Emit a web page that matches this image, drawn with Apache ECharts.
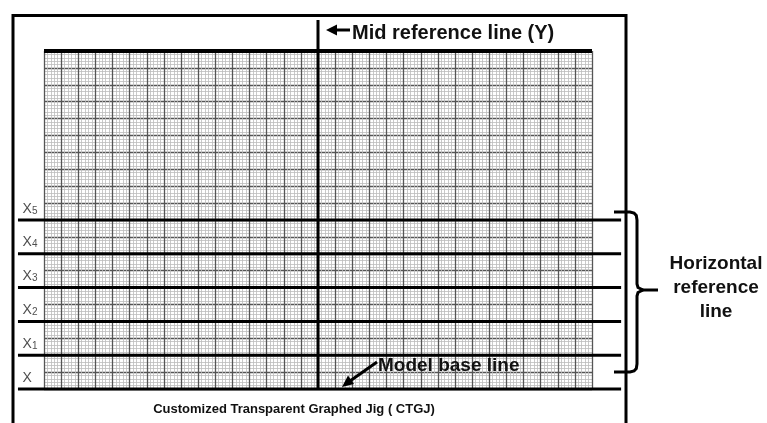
<!DOCTYPE html>
<html><head><meta charset="utf-8">
<script src="https://cdn.jsdelivr.net/npm/echarts@6/dist/echarts.min.js"></script>
<style>html,body{margin:0;padding:0;background:#fff}#c{width:767px;height:423px}</style>
</head><body><div id="c"></div>
<script>
// Graph paper size in major cells
const gridCols = 32;
const gridRows = 20;
// Horizontal reference lines (in major cells above the base line)
const refLevels = [0, 2, 4, 6, 8, 10];
const refLabels = ['X', 'X1', 'X2', 'X3', 'X4', 'X5'];
// Mid reference line (Y) position
const midLineX = [16];
// Annotation texts
const titleText = 'Customized Transparent Graphed Jig ( CTGJ)';
const midText = 'Mid reference line (Y)';
const baseText = 'Model base line';
const bracketText = 'Horizontal\nreference\nline';

const FONT = 'Liberation Sans';
const lineEndL = -1.52, lineEndR = 33.7, midTop = 21.83, labelX = -1.25, labelDy = 0.72;

function labelFmt(s) {
  return s.length > 1 ? '{a|' + s[0] + '}{s|' + s.slice(1) + '}' : '{a|' + s + '}';
}

const chart = echarts.init(document.getElementById('c'), null, {renderer: 'canvas'});

// segments: [x1, y1, x2, y2, width]
const segs = [];
refLevels.forEach(v => segs.push([lineEndL, v, lineEndR, v, 3]));
segs.push([0, gridRows, gridCols, gridRows, 4]);
midLineX.forEach(x => segs.push([x, 0, x, midTop, 3]));

const series = [{
  type: 'custom', clip: false, silent: true, z: 5,
  data: segs,
  renderItem: (params, api) => {
    const p1 = api.coord([api.value(0), api.value(1)]);
    const p2 = api.coord([api.value(2), api.value(3)]);
    return {type: 'line', shape: {x1: p1[0], y1: p1[1], x2: p2[0], y2: p2[1]},
      style: {stroke: '#000', lineWidth: api.value(4), lineCap: 'butt'}};
  }
}, {
  type: 'scatter', clip: false, symbolSize: 0, silent: true,
  data: refLevels.map((v, i) => [labelX, v + labelDy, refLabels[i]]),
  label: {
    show: true, position: 'right', distance: 0,
    formatter: p => labelFmt(p.data[2]),
    rich: {
      a: {fontFamily: FONT, fontSize: 14, color: '#222', verticalAlign: 'bottom', lineHeight: 16},
      s: {fontFamily: FONT, fontSize: 10, color: '#222', verticalAlign: 'bottom', lineHeight: 14}
    }
  }
}];

const ar = 3; // arrow line width
const bracketTop = [[614, 212], [630, 212], [634, 213], [636.3, 215.5], [637, 220], [637, 284], [638, 287.5], [643, 290]];
const bracketBot = [[614, 372], [630, 372], [634, 371], [636.3, 368.5], [637, 364], [637, 296], [638, 292.5], [643, 290]];
const option = {
  animation: false,
  backgroundColor: '#fff',
  grid: {left: 44, top: 51, width: 548, height: 338, show: false},
  xAxis: {
    type: 'value', min: 0, max: gridCols, interval: 1,
    axisLine: {show: false}, axisTick: {show: false}, axisLabel: {show: false},
    splitLine: {show: true, lineStyle: {color: '#555', width: 1.3}},
    minorTick: {show: false, splitNumber: 5},
    minorSplitLine: {show: true, lineStyle: {color: '#bcbcbc', width: 0.8}}
  },
  yAxis: {
    type: 'value', min: 0, max: gridRows, interval: 1,
    axisLine: {show: false}, axisTick: {show: false}, axisLabel: {show: false},
    splitLine: {show: true, lineStyle: {color: '#555', width: 1.3}},
    minorTick: {show: false, splitNumber: 5},
    minorSplitLine: {show: true, lineStyle: {color: '#bcbcbc', width: 0.8}}
  },
  series: series,
  graphic: [
    {type: 'polyline', z: 10, shape: {points: [[13, 440], [13, 15.5], [626, 15.5], [626, 440]]},
      style: {stroke: '#000', lineWidth: 3, fill: null}},
    {type: 'polyline', z: 10, shape: {points: bracketTop}, style: {stroke: '#000', lineWidth: 3, fill: null}},
    {type: 'polyline', z: 10, shape: {points: bracketBot}, style: {stroke: '#000', lineWidth: 3, fill: null}},
    {type: 'line', z: 10, shape: {x1: 640, y1: 290, x2: 658, y2: 290}, style: {stroke: '#000', lineWidth: 3}},
    // mid arrow
    {type: 'line', z: 10, shape: {x1: 333, y1: 30, x2: 350, y2: 30}, style: {stroke: '#000', lineWidth: ar}},
    {type: 'polygon', z: 10, shape: {points: [[326, 30], [337, 24.5], [337, 35.5]]}, style: {fill: '#000'}},
    // base arrow
    {type: 'line', z: 10, shape: {x1: 377, y1: 362, x2: 350, y2: 381}, style: {stroke: '#000', lineWidth: ar}},
    {type: 'polygon', z: 10, shape: {points: [[342, 387], [354, 384], [348, 375.5]]}, style: {fill: '#000'}},
    {type: 'text', z: 10, x: 352, y: 33, style: {text: midText, font: 'bold 20px "' + FONT + '"', fill: '#111', textVerticalAlign: 'middle'}},
    {type: 'text', z: 10, x: 378, y: 366, style: {text: baseText, font: 'bold 19px "' + FONT + '"', fill: '#111', textVerticalAlign: 'middle'}},
    {type: 'text', z: 10, x: 716, y: 288, style: {text: bracketText, font: 'bold 19px "' + FONT + '"', fill: '#111', textAlign: 'center', textVerticalAlign: 'middle', lineHeight: 24}},
    {type: 'text', z: 10, x: 294, y: 409, style: {text: titleText, font: 'bold 13px "' + FONT + '"', fill: '#111', textAlign: 'center', textVerticalAlign: 'middle'}}
  ]
};
chart.setOption(option);
</script>
</body></html>
